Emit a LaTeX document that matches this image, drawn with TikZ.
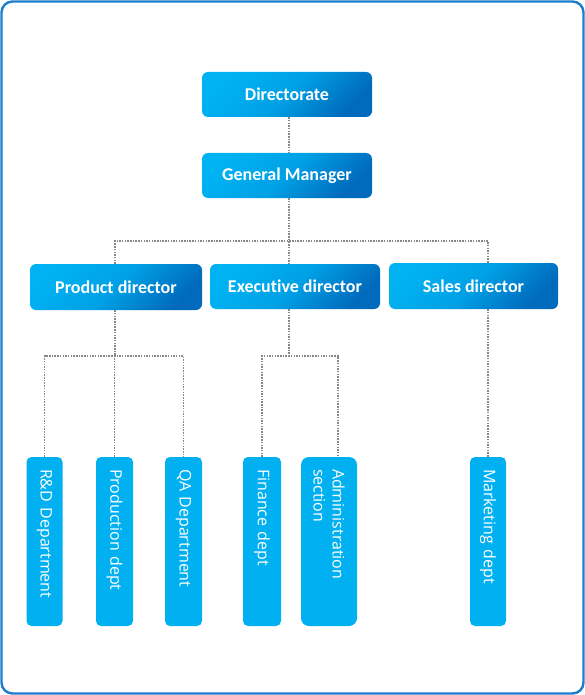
\documentclass[tikz,border=0pt]{standalone}
\usepackage{fontspec}
\setmainfont{Carlito}[Ligatures=NoCommon]
\newfontfamily\deptfont{Open Sans}
\definecolor{framecol}{RGB}{27,125,204}
\definecolor{boxlight}{RGB}{0,178,242}
\definecolor{boxdark}{RGB}{0,106,188}
\definecolor{deptcol}{RGB}{0,176,240}
\definecolor{conncol}{RGB}{135,135,135}
\begin{document}
\begin{tikzpicture}[x=1pt,y=-1pt,
  topbox/.style={rounded corners=6pt, minimum height=45pt, inner sep=0pt, text=white,
    font=\fontsize{18}{21}\selectfont\bfseries,
    top color=boxlight, bottom color=boxdark, middle color=boxlight!75!boxdark, shading angle=45},
  deptbox/.style={rotate=-90, fill=deptcol, rounded corners=5pt, minimum width=169pt,
    text width=145pt, align=left, inner sep=0pt, text=white,
    font=\deptfont\fontsize{16}{19}\selectfont},
  conn/.style={draw=conncol, line width=1.5pt, dash pattern=on 1.5pt off 1.2pt}]
\useasboundingbox (0,0) rectangle (585,695);
\draw[framecol, line width=2.4pt, rounded corners=11pt] (1.5,1.5) rectangle (583.5,693.5);

\node[topbox, minimum width=170pt] (dir) at (287,94.5) {Directorate};
\node[topbox, minimum width=170pt] (gm) at (287,175.5) {General Manager};
\node[topbox, minimum width=172pt, minimum height=46pt] (pd) at (116,287) {Product director};
\node[topbox, minimum width=170pt] (ed) at (295,286.5) {Executive director};
\node[topbox, minimum width=169pt, minimum height=46pt] (sd) at (473.5,286) {Sales director};

\node[deptbox, minimum height=36pt] (rd) at (44.5,541.5) {R\&D Department};
\node[deptbox, minimum height=37pt] (prod) at (114.5,541.5) {Production dept};
\node[deptbox, minimum height=37pt] (qa) at (183.5,541.5) {QA Department};
\node[deptbox, minimum height=38pt] (fin) at (262,541.5) {Finance dept};
\node[deptbox, minimum height=56pt, rounded corners=8pt] (adm) at (329,541.5) {Administration\\section};
\node[deptbox, minimum height=36pt] (mk) at (488,541.5) {Marketing dept};

\coordinate (j1) at (289,241);
\coordinate (j2) at (115,356);
\coordinate (j3) at (289,356);
\coordinate (admtop) at (338,457);

\draw[conn] (dir.south -| j1) -- (gm.north -| j1);
\draw[conn] (gm.south -| j1) -- (ed.north -| j1);
\draw[conn] (pd.north -| j2) |- (j1) -| (sd.north -| mk.west);
\draw[conn] (sd.south -| mk.west) -- (mk.west);
\draw[conn] (pd.south -| j2) -- (j2);
\draw[conn] (rd.west) |- (j2) -| (qa.west);
\draw[conn] (prod.west) -- (prod.west |- j2);
\draw[conn] (ed.south -| j3) -- (j3);
\draw[conn] (fin.west) |- (j3) -| (admtop);
\end{tikzpicture}
\end{document}
